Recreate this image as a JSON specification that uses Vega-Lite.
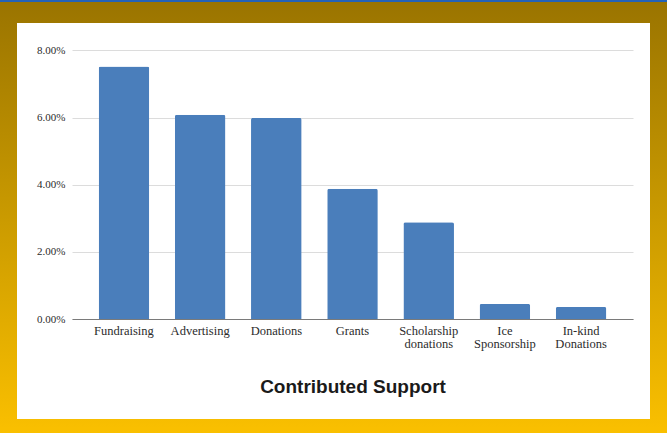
{
  "$schema": "https://vega.github.io/schema/vega-lite/v6.json",
  "background": "white",
  "padding": 0,
  "config": {"view": {"stroke": null}},
  "datasets": {
    "support": [
      {"source": "Fundraising", "share": 0.0752},
      {"source": "Advertising", "share": 0.0608},
      {"source": "Donations", "share": 0.0599},
      {"source": "Grants", "share": 0.0388},
      {"source": "Scholarship donations", "share": 0.0288},
      {"source": "Ice Sponsorship", "share": 0.0045},
      {"source": "In-kind Donations", "share": 0.0036}
    ],
    "frame": [{"part": "frame"}]
  },
  "spacing": 0,
  "vconcat": [
    {
      "width": 667,
      "height": 23,
      "data": {"name": "frame"},
      "mark": {
        "type": "rect",
        "fill": {
          "gradient": "linear", "x1": 0, "y1": 0, "x2": 0, "y2": 1,
          "stops": [
            {"offset": 0, "color": "#2462b6"},
            {"offset": 0.07, "color": "#2462b6"},
            {"offset": 0.1, "color": "#9a7400"},
            {"offset": 1, "color": "#9f7800"}
          ]
        }
      },
      "encoding": {}
    },
    {
      "spacing": 17,
      "hconcat": [
        {
          "width": 17,
          "height": 396,
          "data": {"name": "frame"},
          "mark": {
            "type": "rect",
            "fill": {
              "gradient": "linear", "x1": 0, "y1": 0, "x2": 0, "y2": 1,
              "stops": [
                {"offset": 0, "color": "#9f7800"},
                {"offset": 0.5, "color": "#cb9b00"},
                {"offset": 1, "color": "#f7bd00"}
              ]
            }
          },
          "encoding": {}
        },
        {
          "width": 561,
          "height": 296,
          "data": {"name": "support"},
          "mark": {"type": "bar", "fill": "#4a7ebb", "cornerRadiusEnd": 2},
          "encoding": {
            "x": {
              "field": "source",
              "type": "nominal",
              "sort": null,
              "scale": {"paddingInner": 0.336, "paddingOuter": 0.35},
              "axis": {
                "title": "Contributed Support",
                "labelAngle": 0,
                "labelFont": "Liberation Serif",
                "labelFontSize": 12.5,
                "labelColor": "#2b2b2b",
                "labelPadding": 5,
                "labelLineHeight": 13,
                "labelExpr": "split(datum.label, ' ')",
                "ticks": false,
                "domainColor": "#7a7a7a",
                "titleFont": "Liberation Sans",
                "titleFontSize": 19,
                "titleFontWeight": "bold",
                "titleColor": "#1a1a1a",
                "titlePadding": 28
              }
            },
            "y": {
              "field": "share",
              "type": "quantitative",
              "scale": {"domain": [0, 0.08816], "nice": false},
              "axis": {
                "title": null,
                "values": [0, 0.02, 0.04, 0.06, 0.08],
                "format": ".2%",
                "domain": false,
                "ticks": false,
                "labelFont": "Liberation Serif",
                "labelFontSize": 11,
                "labelColor": "#2b2b2b",
                "labelPadding": 7,
                "gridColor": "#dcdcdc",
                "minExtent": 38,
                "maxExtent": 38
              }
            }
          }
        },
        {
          "width": 17,
          "height": 396,
          "data": {"name": "frame"},
          "mark": {
            "type": "rect",
            "fill": {
              "gradient": "linear", "x1": 0, "y1": 0, "x2": 0, "y2": 1,
              "stops": [
                {"offset": 0, "color": "#9f7800"},
                {"offset": 0.5, "color": "#cb9b00"},
                {"offset": 1, "color": "#f7bd00"}
              ]
            }
          },
          "encoding": {}
        }
      ]
    },
    {
      "width": 667,
      "height": 14,
      "data": {"name": "frame"},
      "mark": {
        "type": "rect",
        "fill": {
          "gradient": "linear", "x1": 0, "y1": 0, "x2": 0, "y2": 1,
          "stops": [
            {"offset": 0, "color": "#f7bd00"},
            {"offset": 1, "color": "#fac000"}
          ]
        }
      },
      "encoding": {}
    }
  ]
}
